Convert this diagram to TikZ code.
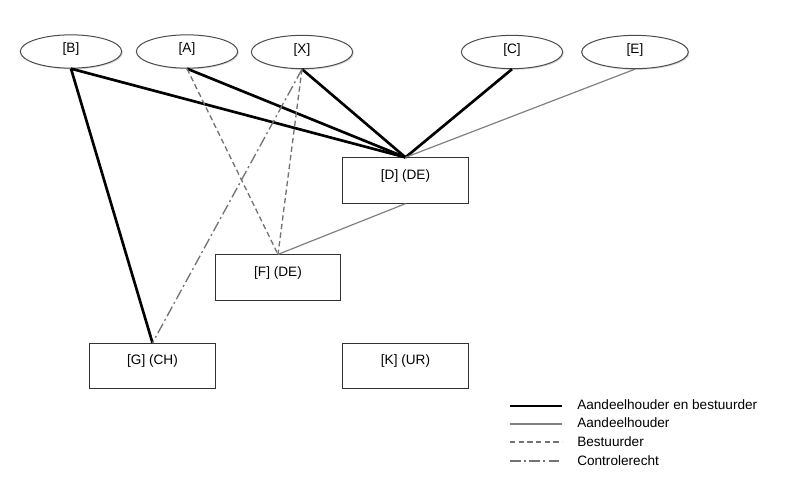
\documentclass[tikz,border=0pt]{standalone}
\usepackage{fontspec}
\setmainfont{Liberation Sans}
\usetikzlibrary{positioning, shapes.geometric, shadows}

\begin{document}
\begin{tikzpicture}[x=0.75pt, y=-0.75pt,%
  every node/.style={font=\fontsize{10.2pt}{11pt}\selectfont},
  person/.style={ellipse, draw=black!70, line width=0.75pt, fill=white, minimum width=76pt, minimum height=25pt,
    inner sep=0pt, text height=7pt, text depth=5.5pt,
    drop shadow={shadow xshift=0.9pt, shadow yshift=-0.9pt, opacity=0.3}},
  firm/.style={rectangle, draw=black!80, line width=0.7pt, minimum width=94pt, minimum height=34pt,
    inner sep=0pt, text height=8pt, text depth=10pt},
  ownerdir/.style={line width=2pt, black},
  owner/.style={line width=0.9pt, black!50},
  director/.style={line width=1pt, black!55, dash pattern=on 4pt off 2.5pt},
  control/.style={line width=1pt, black!55, dash pattern=on 8pt off 2.5pt on 1.5pt off 2.5pt}
  ]
  \useasboundingbox (0,0) rectangle (800,483);
  % shareholders
  \node[person] (B) at (71,51.5) {[B]};
  \node[person] (A) at (187,51.5) {[A]};
  \node[person] (X) at (302,52) {[X]};
  \node[person] (C) at (512,52) {[C]};
  \node[person, minimum width=80pt] (E) at (635,52) {[E]};
  % companies
  \node[firm] (D) at (405.5,180.5) {[D] (DE)};
  \node[firm] (F) at (278,277.5) {[F] (DE)};
  \node[firm] (G) at (152.5,366) {[G] (CH)};
  \node[firm] (K) at (405.5,366) {[K] (UR)};
    \draw (B.south) edge[ownerdir] (D.north);
    \draw (A.south) edge[ownerdir] (D.north);
    \draw (X.south) edge[ownerdir] (D.north);
    \draw (C.south) edge[ownerdir] (D.north);
    \draw (E.south) edge[owner] (D.north);
    \draw (B.south) edge[ownerdir] (G.north);
    \draw (A.south) edge[director] (F.north);
    \draw (X.south) edge[director] (F.north);
    \draw (X.south) edge[control] (G.north);
    \draw (D.south) edge[owner] (F.north);
  % legend
  \coordinate (l1a) at (510,406); \coordinate (l1b) at (562,406);
  \coordinate (l2a) at (510,424); \coordinate (l2b) at (562,424);
  \coordinate (l3a) at (510,442); \coordinate (l3b) at (562,442);
  \coordinate (l4a) at (510,461); \coordinate (l4b) at (562,461);
    \draw (l1a) edge[ownerdir] (l1b);
    \draw (l2a) edge[owner] (l2b);
    \draw (l3a) edge[director] (l3b);
    \draw (l4a) edge[control] (l4b);
  \node[anchor=west, inner sep=0pt] (t1) at (577,405) {Aandeelhouder en bestuurder};
  \node[anchor=west, inner sep=0pt] (t2) at (577,423) {Aandeelhouder};
  \node[anchor=west, inner sep=0pt] (t3) at (577,442) {Bestuurder};
  \node[anchor=west, inner sep=0pt] (t4) at (577,461) {Controlerecht};
\end{tikzpicture}
\end{document}
